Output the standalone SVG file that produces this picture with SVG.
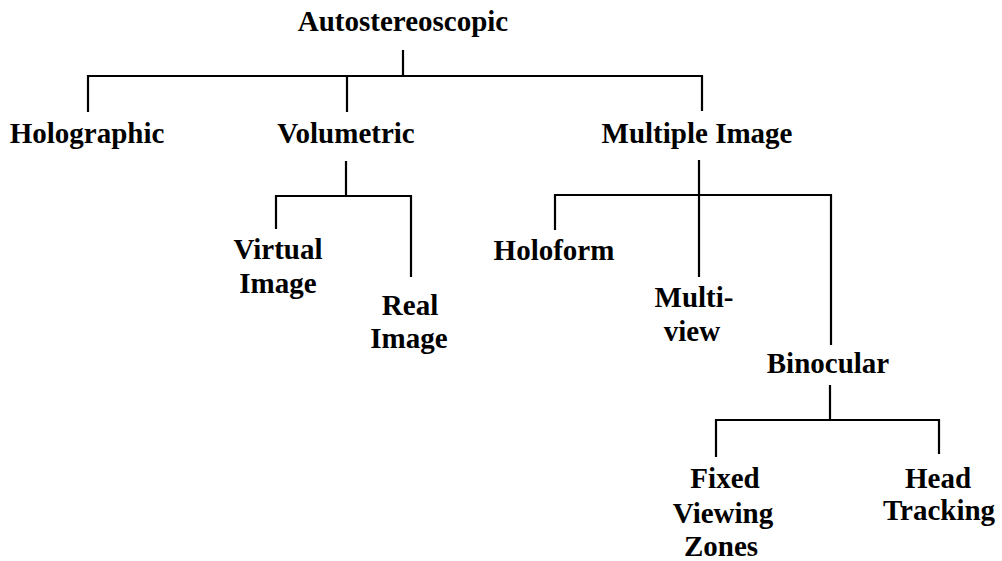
<svg xmlns="http://www.w3.org/2000/svg" width="1002" height="561" viewBox="0 0 1002 561">
<style>
text{font-family:"Liberation Serif","Times New Roman",serif;font-weight:bold;font-size:29px;fill:#000;text-anchor:middle}
.c{stroke:#000;stroke-width:2.2;fill:none}
</style>
<rect width="1002" height="561" fill="#fff"/>
<g id="connectors">
<path class="c" d="M403,50V76M88,112V76H702V111M347,76V112"/>
<path class="c" d="M346,161V196M276,229V196H411V277"/>
<path class="c" d="M699,160V277M555,230V195H831V345"/>
<path class="c" d="M830,385V420M716,457V420H939V454"/>
</g>
<g id="autostereoscopic"><text x="403" y="31">Autostereoscopic</text></g>
<g id="holographic"><text x="87" y="143">Holographic</text></g>
<g id="volumetric"><text x="346" y="143">Volumetric</text></g>
<g id="multiple-image"><text x="697" y="143">Multiple Image</text></g>
<g id="virtual-image"><text x="278" y="259">Virtual</text><text x="278" y="293">Image</text></g>
<g id="real-image"><text x="410" y="315">Real</text><text x="409" y="348">Image</text></g>
<g id="holoform"><text x="554" y="260">Holoform</text></g>
<g id="multi-view"><text x="694" y="307">Multi-</text><text x="692" y="341">view</text></g>
<g id="binocular"><text x="828" y="373">Binocular</text></g>
<g id="fixed-viewing-zones"><text x="725" y="488">Fixed</text><text x="723" y="523">Viewing</text><text x="721" y="556">Zones</text></g>
<g id="head-tracking"><text x="938" y="488">Head</text><text x="939" y="520">Tracking</text></g>
</svg>
